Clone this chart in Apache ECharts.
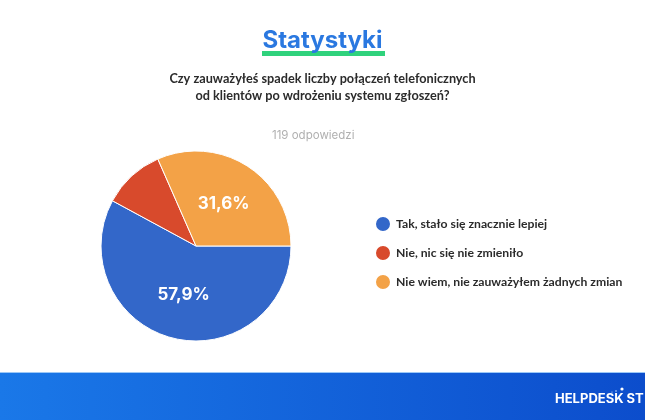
<!DOCTYPE html>
<html>
<head>
<meta charset="utf-8">
<script src="https://cdn.jsdelivr.net/npm/echarts@6/dist/echarts.min.js"></script>
<style>
html,body{margin:0;padding:0;background:#fff;}
#c{width:645px;height:420px;}
</style>
</head>
<body>
<div id="c"></div>
<script>
var categories = ['Tak, stało się znacznie lepiej', 'Nie, nic się nie zmieniło', 'Nie wiem, nie zauważyłem żadnych zmian'];
var values = [66, 12, 36];
var colors = ['#3367c9', '#d84a2c', '#f3a247'];
var titleText = 'Statystyki';
var questionText = 'Czy zauważyłeś spadek liczby połączeń telefonicznych\nod klientów po wdrożeniu systemu zgłoszeń?';
var responsesText = '119 odpowiedzi';
var brandText = 'HELPDESK ST';

var chart = echarts.init(document.getElementById('c'), null, {renderer: 'canvas'});
var FONT = 'Inter, "Noto Sans", sans-serif';
var FONT2 = 'Lato, "Noto Sans", sans-serif';
chart.setOption({
  backgroundColor: '#ffffff',
  animation: false,
  color: colors,
  legend: {
    orient: 'vertical',
    left: 369,
    top: 210,
    icon: 'circle',
    itemWidth: 16,
    itemHeight: 16,
    itemGap: 11,
    textStyle: {fontFamily: FONT2, fontSize: 12.2, color: '#2b2b2b', fontWeight: 'bold'},
    data: categories
  },
  series: [{
    type: 'pie',
    center: [196, 246],
    radius: [0, 95],
    startAngle: 0,
    clockwise: true,
    avoidLabelOverlap: false,
    itemStyle: {borderColor: '#ffffff', borderWidth: 1},
    label: {
      show: true,
      position: 'inside',
      fontFamily: FONT,
      fontSize: 17,
      fontWeight: 'bold',
      color: '#ffffff',
      formatter: function (p) {
        if (p.percent < 15) return '';
        return p.percent.toFixed(1).replace('.', ',') + '%';
      }
    },
    labelLine: {show: false},
    emphasis: {disabled: true},
    data: categories.map(function (c, i) { return {name: c, value: values[i]}; })
  }],
  graphic: [
    {type: 'rect', z: 1, shape: {x: 262, y: 51, width: 123, height: 5}, style: {fill: '#2fd27c'}},
    {type: 'text', z: 2, left: 'center', top: 29, style: {text: titleText, font: 'bold 24px ' + FONT, fill: '#2a78e0'}},
    {type: 'text', z: 2, left: 'center', top: 70, style: {text: questionText, font: 'bold 12.7px ' + FONT2, fill: '#2b2b2b', textAlign: 'center', lineHeight: 17}},
    {type: 'text', z: 2, left: 272, top: 130, style: {text: responsesText, font: '11.5px ' + FONT, fill: '#b0b0b0'}},
    {type: 'rect', z: 1, shape: {x: 0, y: 372, width: 645, height: 48},
      style: {fill: new echarts.graphic.LinearGradient(0, 0, 1, 0, [{offset: 0, color: '#1a78e8'}, {offset: 1, color: '#0c4dcc'}])}},
    {type: 'rect', z: 2, shape: {x: 0, y: 372, width: 645, height: 1}, style: {fill: '#9cc8f7'}},
    {type: 'text', z: 3, left: 555, top: 393, style: {text: brandText, font: 'bold 13px ' + FONT, fill: '#ffffff'}},
    {type: 'circle', z: 3, shape: {cx: 622, cy: 389, r: 1.6}, style: {fill: '#ffffff'}},
    {type: 'circle', z: 3, shape: {cx: 616, cy: 391, r: 0.8}, style: {fill: '#cfe2ff'}},
    {type: 'circle', z: 3, shape: {cx: 612, cy: 392, r: 0.6}, style: {fill: '#cfe2ff'}}
  ]
});
</script>
</body>
</html>
